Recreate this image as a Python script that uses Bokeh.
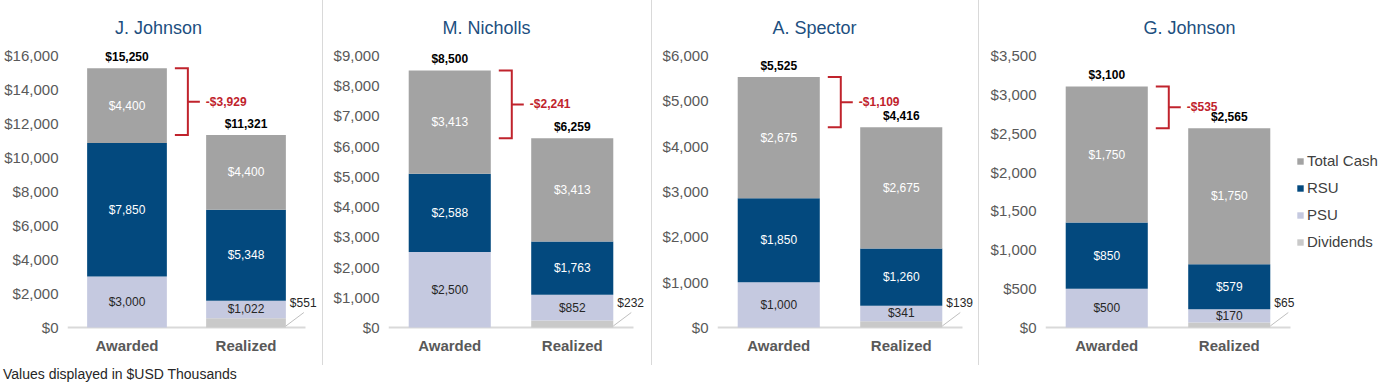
from bokeh.plotting import figure
from bokeh.models import (ColumnDataSource, Range1d, FixedTicker, NumeralTickFormatter,
                          LabelSet, Label, Legend, LegendItem, Div)
from bokeh.layouts import row, column
from bokeh.core.properties import value
from bokeh.embed import file_html
from bokeh.resources import INLINE

# ---------------- data ----------------
names = ["J. Johnson", "M. Nicholls", "A. Spector", "G. Johnson"]
categories = ["Awarded", "Realized"]
series = ["Total Cash", "RSU", "PSU", "Dividends"]  # legend order (top to bottom)

cash_awarded = [4400, 3413, 2675, 1750]
rsu_awarded = [7850, 2588, 1850, 850]
psu_awarded = [3000, 2500, 1000, 500]
div_awarded = [0, 0, 0, 0]

cash_realized = [4400, 3413, 2675, 1750]
rsu_realized = [5348, 1763, 1260, 579]
psu_realized = [1022, 852, 341, 170]
div_realized = [551, 232, 139, 65]

awarded_total = [15250, 8500, 5525, 3100]
realized_total = [11321, 6259, 4416, 2565]
difference = [-3929, -2241, -1109, -535]

y_max = [16000, 9000, 6000, 3500]
y_step = [2000, 1000, 1000, 500]
footnote = "Values displayed in $USD Thousands"

# ---------------- style / layout ----------------
COLORS = {"Total Cash": "#a3a3a3", "RSU": "#03497e", "PSU": "#c5c9e0", "Dividends": "#c9c9c9"}
RED = "#c0232c"
FONT = "Liberation Sans"
FIG_H = 365          # figure height in px
FRAME_H = 329        # frame height (frame starts at the top of the figure)
ZERO_PX = 327        # pixel row of y = 0, from the top of the frame
SCALE_PX = 272       # pixels between 0 and the top tick
fig_w = [322, 328, 326, 402]
left_b = [67, 65, 65, 66]
axis_w = [238, 245, 245, 245]   # length of the baseline (x from -0.5 to 1.5)
title_shift = [-3, -1, -1, 9]
BAR_W = 0.67


def money(v):
    return ("-$" if v < 0 else "$") + f"{abs(v):,}"


def make_panel(i):
    fw = fig_w[i] - left_b[i]
    ppx = axis_w[i] / 2.0
    ppy = SCALE_PX / y_max[i]

    def dx(px):
        return px / ppx

    def dy(px):
        return px / ppy

    p = figure(frame_width=fw, frame_height=FRAME_H,
               min_border_left=left_b[i], min_border_right=0,
               min_border_top=0, min_border_bottom=FIG_H - FRAME_H,
               x_range=Range1d(-0.5, -0.5 + fw / ppx),
               y_range=Range1d(-dy(FRAME_H - ZERO_PX), dy(ZERO_PX)),
               output_backend="svg", toolbar_location=None,
               outline_line_color=None, background_fill_color="white",
               border_fill_color="white")
    p.grid.visible = False

    # axes
    p.yaxis.ticker = FixedTicker(ticks=list(range(0, y_max[i] + 1, y_step[i])))
    p.yaxis.formatter = NumeralTickFormatter(format="$0,0")
    p.yaxis.axis_line_color = None
    p.yaxis.major_tick_line_color = None
    p.yaxis.minor_tick_line_color = None
    p.yaxis.major_tick_out = 0
    p.yaxis.minor_tick_out = 0
    p.yaxis.major_label_standoff = 9
    p.yaxis.major_label_text_font = FONT
    p.yaxis.major_label_text_font_size = "15px"
    p.yaxis.major_label_text_color = "#595959"

    p.xaxis.ticker = FixedTicker(ticks=[0, 1])
    p.xaxis.major_label_overrides = {0: categories[0], 1: categories[1]}
    p.xaxis.axis_line_color = None
    p.xaxis.major_tick_line_color = None
    p.xaxis.minor_tick_line_color = None
    p.xaxis.major_tick_out = 0
    p.xaxis.minor_tick_out = 0
    p.xaxis.major_label_standoff = 7
    p.xaxis.major_label_text_font = FONT
    p.xaxis.major_label_text_font_size = "15px"
    p.xaxis.major_label_text_font_style = "bold"
    p.xaxis.major_label_text_color = "#595959"

    # baseline
    p.segment(x0=[-0.5], y0=[0], x1=[1.5], y1=[0], line_color="#d9d9d9", line_width=2)

    # stacked bars
    src = ColumnDataSource(dict(
        x=[0, 1],
        div=[div_awarded[i], div_realized[i]],
        psu=[psu_awarded[i], psu_realized[i]],
        rsu=[rsu_awarded[i], rsu_realized[i]],
        cash=[cash_awarded[i], cash_realized[i]],
    ))
    stack_cols = ["div", "psu", "rsu", "cash"]
    stack_names = ["Dividends", "PSU", "RSU", "Total Cash"]
    rs = p.vbar_stack(stack_cols, x="x", width=BAR_W, source=src,
                      fill_color=[COLORS[n] for n in stack_names], line_color=None)

    # segment labels
    lx, ly, lt, lc = [], [], [], []
    for j, (d, ps, rsu, cash) in enumerate([
            (div_awarded[i], psu_awarded[i], rsu_awarded[i], cash_awarded[i]),
            (div_realized[i], psu_realized[i], rsu_realized[i], cash_realized[i])]):
        base = d
        for val, col in [(ps, "#262626"), (rsu, "#ffffff"), (cash, "#ffffff")]:
            lx.append(j)
            ly.append(base + val / 2.0)
            lt.append(money(val))
            lc.append(col)
            base += val
    seg_src = ColumnDataSource(dict(x=lx, y=ly, t=lt, c=lc))
    p.add_layout(LabelSet(x="x", y="y", text="t", source=seg_src, text_color="c",
                          text_align="center", text_baseline="middle",
                          text_font=value(FONT), text_font_size=value("12px")))

    # totals
    tot_src = ColumnDataSource(dict(
        x=[0, 1],
        y=[awarded_total[i] + dy(11.5), realized_total[i] + dy(11.5)],
        t=[money(awarded_total[i]), money(realized_total[i])]))
    p.add_layout(LabelSet(x="x", y="y", text="t", source=tot_src, text_color="#000000",
                          text_align="center", text_baseline="middle",
                          text_font=value(FONT), text_font_size=value("12px"),
                          text_font_style="bold"))

    # red bracket for the difference
    xa = BAR_W / 2.0
    x1, x2, x3 = xa + dx(8), xa + dx(21), xa + dx(33)
    ytop, ybot = awarded_total[i], realized_total[i]
    ymid = (ytop + ybot) / 2.0
    p.multi_line(xs=[[x1, x2, x2, x1], [x2, x3]],
                 ys=[[ytop, ytop, ybot, ybot], [ymid, ymid]],
                 line_color=RED, line_width=2, line_join="miter")
    p.add_layout(Label(x=xa + dx(39), y=ymid, text=money(difference[i]),
                       text_align="left", text_baseline="middle",
                       text_font=FONT, text_font_size="12px", text_font_style="bold",
                       text_color=RED))

    # dividends call-out
    xr = 1 + BAR_W / 2.0
    p.segment(x0=[xr], y0=[dy(1.5)], x1=[xr + dx(18)], y1=[dy(15)],
              line_color="#bfbfbf", line_width=1)
    p.add_layout(Label(x=xr + dx(4), y=dy(25), text=money(div_realized[i]),
                       text_align="left", text_baseline="middle",
                       text_font=FONT, text_font_size="12px", text_color="#262626"))

    # title
    p.add_layout(Label(x=fig_w[i] / 2.0 - left_b[i] + title_shift[i],
                       y=FRAME_H - 27,
                       x_units="screen", y_units="screen", text=names[i],
                       text_align="center", text_baseline="middle",
                       text_font=FONT, text_font_size="18px", text_color="#1d4f7f"))
    return p, rs


panels = []
for i in range(4):
    p, rs = make_panel(i)
    panels.append(p)
    if i == 3:
        by_name = dict(zip(["Dividends", "PSU", "RSU", "Total Cash"], rs))
        legend = Legend(items=[LegendItem(label=n, renderers=[by_name[n]]) for n in series],
                        location=(251, 79), orientation="vertical",
                        glyph_width=8, glyph_height=8, label_height=16,
                        label_standoff=3, spacing=10, padding=0, margin=0,
                        border_line_color=None, background_fill_alpha=0,
                        label_text_font=FONT, label_text_font_size="15px",
                        label_text_color="#404040")
        p.add_layout(legend)


def sep():
    return Div(text="", width=1, height=FIG_H, margin=0,
               styles={"background-color": "#d9d9d9"})


note = Div(text=('<div style="font-family: \'Liberation Sans\'; font-size: 14px; '
                 'color: #262626; line-height: 18px; padding-left: 3px; white-space: nowrap;">'
                 + footnote + '</div>'),
           width=400, height=18, margin=0, disable_math=True)

layout = column(row(panels[0], sep(), panels[1], sep(), panels[2], sep(), panels[3]), note)
open("out.html", "w").write(file_html(layout, INLINE))
